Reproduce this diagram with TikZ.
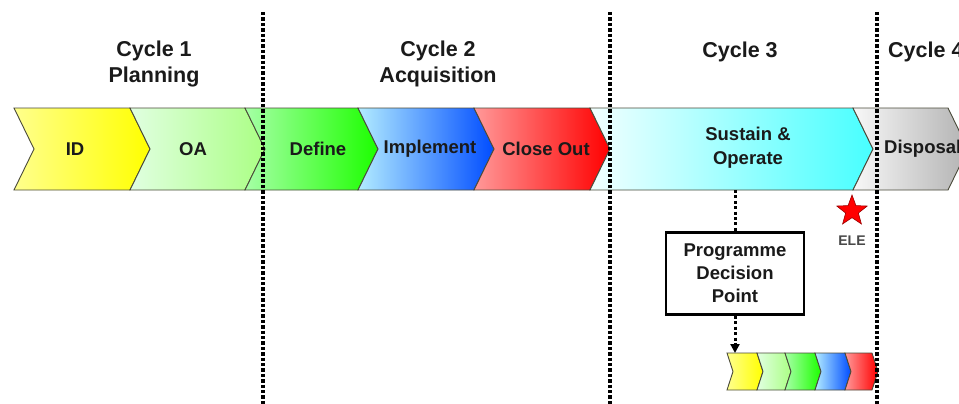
\documentclass[tikz,border=0pt]{standalone}
\usepackage{fontspec}
\setmainfont{Liberation Sans}
\usetikzlibrary{shapes.geometric,arrows.meta}
\definecolor{edge}{HTML}{4A4A3A}
\definecolor{txt}{HTML}{1A1A1A}
\newcommand{\chevron}[6]{%
  \path[#6] (#1,#3) -- (#2,#3) -- ({#2+#5},{(#3+#4)/2}) -- (#2,#4) -- (#1,#4) -- ({#1+#5},{(#3+#4)/2}) -- cycle;}
\tikzset{
  chev/.style={draw=edge, line width=0.9pt},
  cyc/.style={font=\fontsize{21.5}{26}\selectfont\bfseries, text=txt, align=center, inner sep=0pt},
  lab/.style={font=\fontsize{18.5}{24}\selectfont\bfseries, text=txt, align=center, inner sep=0pt},
  dotline/.style={line width=3.4pt, dash pattern=on 3.4pt off 2pt, black},
  thinDot/.style={line width=3pt, dash pattern=on 3pt off 2.4pt, black},
  cY/.style={left color=yellow!45!white, right color=yellow},
  cLG/.style={left color=green!12!white, right color=green!35!white!80!lime},
  cG/.style={left color=green!35!white, right color=green!85!lime},
  cB/.style={left color=blue!25!cyan!30!white, right color=blue!70!cyan},
  cR/.style={left color=red!40!white, right color=red},
}
\begin{document}
\begin{tikzpicture}[x=1pt,y=-1pt]
\useasboundingbox (0,0) rectangle (959,404);
\clip (0,0) rectangle (959,404);
\fill[white] (0,0) rectangle (959,404);
% main band
\chevron{14}{130}{108}{190}{20}{chev, cY}
\chevron{130}{245}{108}{190}{20}{chev, cLG}
\chevron{245}{358}{108}{190}{20}{chev, cG}
\chevron{358}{474}{108}{190}{20}{chev, cB}
\chevron{474}{590}{108}{190}{20}{chev, cR}
\chevron{590}{853}{108}{190}{20}{chev, left color=cyan!5!white, right color=cyan!72!white}
\chevron{853}{948}{108}{190}{20}{chev, left color=black!3, right color=black!30}
% chevron labels
\node[lab] (id) at (75,149) {ID};
\node[lab] (oa) at (193,149) {OA};
\node[lab] (def) at (318,149) {Define};
\node[lab] (imp) at (430,149) {Implement};
\node[lab] (clo) at (546,149) {Close Out};
\node[lab] (sus) at (748,148) {Sustain \&\\Operate};
\node[lab, anchor=west] (dis) at (884,149) {Disposal};
% cycle titles
\node[cyc] (c1) at (154,64) {Cycle 1\\Planning};
\node[cyc] (c2) at (438,64) {Cycle 2\\Acquisition};
\node[cyc] (c3) at (740,52) {Cycle 3};
\node[cyc, anchor=west] (c4) at (888,52) {Cycle 4};
% small chevrons
\chevron{727}{757}{353}{390}{6}{chev, cY}
\chevron{757}{785}{353}{390}{6}{chev, cLG}
\chevron{785}{815}{353}{390}{6}{chev, cG}
\chevron{815}{845}{353}{390}{6}{chev, cB}
\chevron{845}{872}{353}{390}{6}{chev, cR}
\coordinate (smalltop) at (735,353);
\coordinate (susbot) at (735,190);
% decision box
\node[draw=black, line width=2.8pt, fill=white, minimum width=138pt, minimum height=82pt,
      font=\fontsize{18.5}{23}\selectfont\bfseries, text=txt, align=center] (pdp) at (735,273.5)
      {Programme\\Decision\\Point};
\draw[thinDot] (susbot) -- (pdp.north);
\draw[thinDot, -{Triangle[length=9pt,width=9pt,fill=black]}] (pdp.south) -- (smalltop);
% vertical dotted separators
\coordinate (v1t) at (263,12); \coordinate (v1b) at (263,404);
\coordinate (v2t) at (610,12); \coordinate (v2b) at (610,404);
\coordinate (v3t) at (877,12); \coordinate (v3b) at (877,404);
\draw[dotline] (v1t) -- (v1b);
\draw[dotline] (v2t) -- (v2b);
\draw[dotline] (v3t) -- (v3b);
% star
\node[star, star points=5, star point ratio=2.4, fill=red, draw=red!60!black, line width=0.6pt,
      minimum size=32pt, inner sep=0pt] (ele) at (852,211) {};
\node[font=\fontsize{14}{16}\selectfont\bfseries, text=txt!80!white, inner sep=0pt] (elelab) at (852,241) {ELE};
\end{tikzpicture}
\end{document}
